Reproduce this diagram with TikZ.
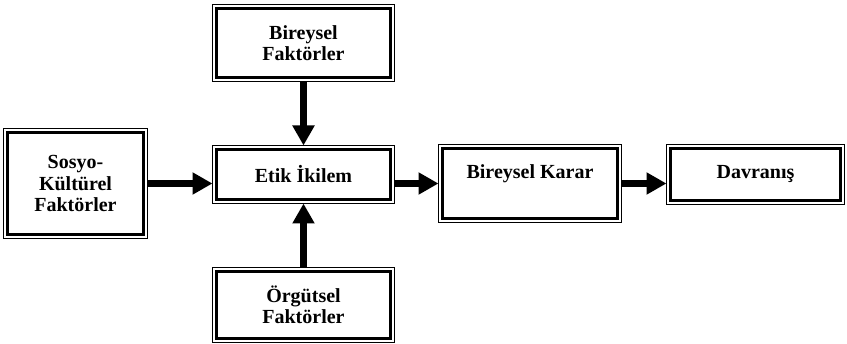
\documentclass[tikz,border=0pt]{standalone}
\usepackage{fontspec}
\setmainfont{Liberation Serif}
\usetikzlibrary{arrows.meta}
\tikzset{
  box/.style={draw, line width=3pt, outer sep=4pt, align=center,
    font=\fontsize{20}{21.5}\selectfont\bfseries},
  arr/.style={line width=7pt, -{Triangle[width=21pt,length=20pt]}}
}
\begin{document}
\begin{tikzpicture}[x=1pt, y=-1pt]
            \useasboundingbox (0,0) rectangle (847,344);
            \node[box, minimum width=174pt, minimum height=69pt] (bf) at (303.5, 43) {Bireysel\\Faktörler};
            \node[box, minimum width=174pt, minimum height=50pt] (etik) at (303.5, 174.5) {Etik İkilem};
            \node[box, minimum width=174pt, minimum height=67pt] (og) at (303.5, 305) {Örgütsel\\Faktörler};
            \node[box, minimum width=136pt, minimum height=102pt] (sk) at (75.5, 183.5) {Sosyo-\\Kültürel\\Faktörler};
            \node[box, minimum width=175pt, minimum height=70pt, text depth=24pt] (bk) at (530, 183.5) {Bireysel Karar};
            \node[box, minimum width=170pt, minimum height=52pt] (dv) at (755.5, 174.5) {Davranış};
            \foreach \n in {bf, etik, og, sk, bk, dv}
              \draw[line width=1pt] (\n.south west) rectangle (\n.north east);
            \draw[arr] (bf.south) -- (etik.north);
            \draw[arr] (og.north) -- (etik.south);
            \draw[arr] (sk.east) -- (sk.east -| etik.west);
            \draw[arr] (bk.west -| etik.east) -- (bk.west);
            \draw[arr] (bk.east) -- (bk.east -| dv.west);
        \end{tikzpicture}
\end{document}
